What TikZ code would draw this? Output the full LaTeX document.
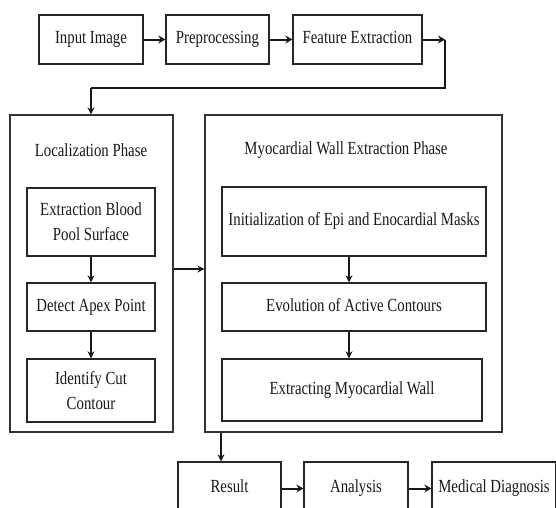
\documentclass[tikz,border=0pt]{standalone}
\usepackage{fontspec}
\setmainfont[FakeStretch=0.8]{Liberation Serif}
\usetikzlibrary{arrows.meta,calc}
\begin{document}
\begin{tikzpicture}[x=1pt,y=-1pt,
  box/.style={draw=black!85, line width=1.3pt, fill=white, inner sep=0pt, align=center,
    text=black!90, font=\fontsize{18.5}{25}\selectfont},
  sl/.style={text height=12.5pt, text depth=4pt},
  frame/.style={draw=black!80, line width=1.1pt, inner sep=0pt},
  title/.style={text=black!90, font=\fontsize{18.5}{25}\selectfont, inner sep=0pt},
  arr/.style={draw=black!90, line width=1.5pt, -{Stealth[length=7pt,width=7pt]}},
  bigarr/.style={draw=black!90, line width=2pt, -{Stealth[length=7pt,width=8pt]}},
  ln/.style={draw=black!90, line width=2pt}]
\useasboundingbox (0,0) rectangle (556,507);
\clip (0,0) rectangle (556,507);
% top row
\node[box, sl, minimum width=104pt, minimum height=49pt] (in) at (91,39.5) {Input Image};
\node[box, sl, minimum width=103pt, minimum height=49pt] (pre) at (217.5,39.5) {Preprocessing};
\node[box, sl, minimum width=129pt, minimum height=49pt] (fe) at (357.5,39.5) {Feature Extraction};
\coordinate (c1) at (445,39.5);
\coordinate (c2) at (445,88);
\coordinate (c3) at (91,88);
% phase frames
\node[frame, minimum width=163pt, minimum height=317pt] (loc) at (91.5,273.5) {};
\node[frame, minimum width=297pt, minimum height=317pt] (myo) at (353.5,273.5) {};
\node[title, sl] (loct) at (91,152) {Localization Phase};
\node[title, sl] (myot) at (346,150) {Myocardial Wall Extraction Phase};
% localization steps
\node[box, minimum width=128pt, minimum height=68pt] (ebp) at (91,222) {Extraction Blood\\Pool Surface};
\node[box, sl, minimum width=128pt, minimum height=48pt] (dap) at (91,307) {Detect Apex Point};
\node[box, minimum width=128pt, minimum height=63pt] (icc) at (91,390.5) {Identify Cut\\Contour};
% myocardial steps
\node[box, sl, minimum width=264pt, minimum height=69pt] (ini) at (354,221.5) {Initialization of Epi and Enocardial Masks};
\node[box, sl, minimum width=264pt, minimum height=48pt] (evo) at (354,307) {Evolution of Active Contours};
\node[box, sl, minimum width=260pt, minimum height=62pt] (ext) at (352,390) {Extracting Myocardial Wall};
\coordinate (vx) at (349,0);
% bottom row
\node[box, sl, minimum width=103pt, minimum height=53pt] (res) at (229.5,488.5) {Result};
\node[box, sl, minimum width=104pt, minimum height=53pt] (ana) at (356,488.5) {Analysis};
\node[box, sl, minimum width=124pt, minimum height=53pt] (med) at (494,488.5) {Medical Diagnosis};
% connectors
\draw[bigarr] (in) -- (pre);
\draw[bigarr] (pre) -- (fe);
\draw[bigarr] (fe) -- (c1);
\draw[ln] (c1) -- (c2) -- (c3);
\draw[arr] (c3) -- (loc.north -| c3);
\draw[arr] (ebp) -- (dap);
\draw[arr] (dap) -- (icc);
\draw[arr] (ini.south -| vx) -- (evo.north -| vx);
\draw[arr] (evo.south -| vx) -- (ext.north -| vx);
\draw[arr] (loc.east |- 0,269) -- (myo.west |- 0,269);
\draw[arr] (myo.south -| 221,0) -- (res.north -| 221,0);
\draw[bigarr] (res) -- (ana);
\draw[bigarr] (ana) -- (med);
\end{tikzpicture}
\end{document}
